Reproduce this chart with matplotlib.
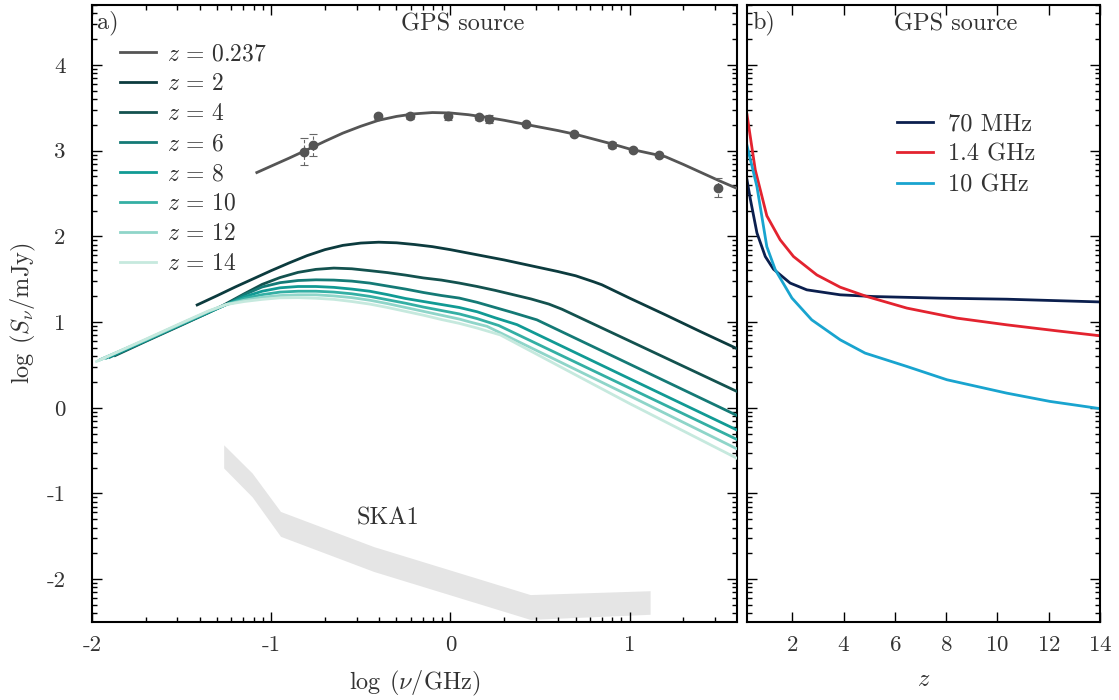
import numpy as np
import matplotlib
matplotlib.use("Agg")
import matplotlib.pyplot as plt
from matplotlib.ticker import FixedLocator, FixedFormatter, NullFormatter

plt.rcParams['font.family'] = ['cmr10', 'DejaVu Serif']
plt.rcParams['mathtext.fontset'] = 'cm'
plt.rcParams['axes.unicode_minus'] = False
plt.rcParams['axes.formatter.use_mathtext'] = True

TXT = '#333333'

# ---------------- data: panel a ----------------
fit_x = [-1.08, -1.0, -0.9, -0.8, -0.7, -0.6, -0.5, -0.4, -0.3, -0.2, -0.1, 0.0, 0.1, 0.2, 0.3,
         0.4, 0.5, 0.6, 0.7, 0.8, 0.9, 1.0, 1.1, 1.2, 1.3, 1.4, 1.5, 1.6]
fit_y = [2.745, 2.82, 2.913, 3.01, 3.11, 3.205, 3.285, 3.355, 3.40, 3.43, 3.445, 3.44, 3.42, 3.39, 3.355,
         3.315, 3.275, 3.235, 3.19, 3.135, 3.08, 3.02, 2.975, 2.93, 2.84, 2.745, 2.65, 2.56]

obs_x = [-0.818, -0.766, -0.405, -0.223, -0.013, 0.158, 0.214, 0.422, 0.688, 0.902, 1.017, 1.166, 1.493]
obs_y = [2.99, 3.067, 3.40, 3.405, 3.40, 3.39, 3.37, 3.308, 3.195, 3.067, 3.009, 2.947, 2.57]
obs_err = [0.16, 0.13, 0.03, 0.04, 0.04, 0.03, 0.05, 0.02, 0.02, 0.03, 0.02, 0.02, 0.11]

z_labels = ['2', '4', '6', '8', '10', '12', '14']
z2_x = [-1.413, -1.3, -1.2, -1.1, -1.0, -0.9, -0.8, -0.7, -0.6, -0.5, -0.4, -0.3, -0.2, -0.1, 0.0,
        0.1, 0.2, 0.3, 0.4, 0.5, 0.6, 0.7, 0.8, 0.846, 1.0, 1.2, 1.4, 1.6]
z2_y = [1.20, 1.31, 1.41, 1.505, 1.60, 1.69, 1.775, 1.845, 1.895, 1.922, 1.932, 1.925, 1.905, 1.88, 1.845,
        1.805, 1.765, 1.725, 1.68, 1.635, 1.59, 1.54, 1.47, 1.435, 1.28, 1.085, 0.885, 0.69]
z4_x = [-1.87, -1.7, -1.5, -1.35, -1.264, -1.15, -1.05, -0.95, -0.85, -0.75, -0.65, -0.55, -0.45, -0.35,
        -0.25, -0.15, -0.05, 0.05, 0.15, 0.25, 0.35, 0.45, 0.55, 0.623, 1.0, 1.3, 1.6]
z4_y = [0.61, 0.775, 0.965, 1.11, 1.20, 1.33, 1.44, 1.52, 1.58, 1.615, 1.63, 1.622, 1.60, 1.577,
        1.548, 1.515, 1.49, 1.455, 1.415, 1.37, 1.32, 1.27, 1.21, 1.15, 0.78, 0.485, 0.19]
z6_x = [-1.9, -1.7, -1.5, -1.35, -1.25, -1.15, -1.05, -0.95, -0.85, -0.75, -0.65, -0.55, -0.45, -0.35,
        -0.25, -0.15, -0.05, 0.05, 0.15, 0.25, 0.35, 0.483, 1.0, 1.6]
z6_y = [0.59, 0.78, 0.97, 1.11, 1.205, 1.32, 1.41, 1.46, 1.485, 1.493, 1.49, 1.478, 1.455, 1.42,
        1.385, 1.345, 1.31, 1.28, 1.23, 1.17, 1.11, 1.026, 0.51, -0.09]
z8_x = [-1.92, -1.7, -1.5, -1.35, -1.25, -1.15, -1.05, -0.95, -0.85, -0.75, -0.65, -0.55, -0.45, -0.35,
        -0.25, -0.15, -0.05, 0.05, 0.15, 0.25, 0.372, 1.0, 1.6]
z8_y = [0.58, 0.785, 0.975, 1.115, 1.205, 1.295, 1.36, 1.40, 1.415, 1.415, 1.405, 1.385, 1.36, 1.32,
        1.275, 1.24, 1.205, 1.17, 1.12, 1.05, 0.97, 0.34, -0.26]
z10_x = [-1.95, -1.7, -1.5, -1.35, -1.25, -1.15, -1.05, -0.95, -0.85, -0.75, -0.65, -0.55, -0.45, -0.35,
         -0.25, -0.15, -0.05, 0.05, 0.15, 0.27, 1.0, 1.6]
z10_y = [0.565, 0.79, 0.98, 1.12, 1.205, 1.275, 1.32, 1.35, 1.36, 1.36, 1.35, 1.33, 1.30, 1.26,
         1.22, 1.175, 1.135, 1.095, 1.04, 0.96, 0.23, -0.37]
z12_x = [-1.96, -1.7, -1.5, -1.35, -1.25, -1.15, -1.05, -0.95, -0.85, -0.75, -0.65, -0.55, -0.45, -0.35,
         -0.25, -0.15, -0.05, 0.05, 0.12, 0.205, 1.0, 1.6]
z12_y = [0.555, 0.795, 0.985, 1.125, 1.205, 1.255, 1.29, 1.31, 1.318, 1.318, 1.305, 1.285, 1.255, 1.215,
         1.17, 1.125, 1.08, 1.035, 0.995, 0.95, 0.14, -0.48]
z14_x = [-1.975, -1.7, -1.5, -1.35, -1.25, -1.15, -1.05, -0.95, -0.85, -0.75, -0.65, -0.55, -0.45, -0.35,
         -0.25, -0.15, -0.05, 0.05, 0.15, 0.279, 1.0, 1.6]
z14_y = [0.54, 0.80, 0.99, 1.13, 1.205, 1.24, 1.265, 1.283, 1.285, 1.278, 1.265, 1.24, 1.21, 1.17,
         1.125, 1.08, 1.03, 0.985, 0.93, 0.85, 0.05, -0.59]

z_colors = ['#0c3b3e', '#13524f', '#147a76', '#119a94', '#34afa4', '#8fd5c9', '#c6e9de']

ska_x = [-1.265, -1.106, -0.948, -0.428, 0.446, 1.115]
ska_hi = [-0.432, -0.762, -1.21, -1.62, -2.18, -2.135]
ska_lo = [-0.703, -1.04, -1.50, -1.91, -2.47, -2.41]

# ---------------- data: panel b ----------------
f70_z = [0.237, 0.37, 0.625, 0.95, 1.27, 1.92, 2.57, 3.87, 5.17, 7.77, 10.36, 14.0]
f70_y = [2.66, 2.43, 2.04, 1.765, 1.617, 1.455, 1.376, 1.318, 1.298, 1.279, 1.267, 1.235]
f14_z = [0.237, 0.56, 1.01, 1.53, 2.05, 2.96, 3.87, 4.91, 6.47, 8.42, 10.36, 12.31, 14.0]
f14_y = [3.42, 2.775, 2.24, 1.96, 1.765, 1.55, 1.407, 1.298, 1.163, 1.046, 0.968, 0.898, 0.84]
f10_z = [0.237, 0.625, 1.01, 1.34, 1.99, 2.76, 3.87, 4.84, 6.47, 8.03, 10.36, 12.05, 14.0]
f10_y = [3.06, 2.58, 1.88, 1.61, 1.28, 1.026, 0.793, 0.638, 0.482, 0.327, 0.171, 0.074, -0.01]
freq_labels = ['70 MHz', '1.4 GHz', '10 GHz']
freq_colors = ['#0b1f4e', '#e3232f', '#19a4cf']

xa_ticks = [-2, -1, 0, 1]
xa_ticklabels = ['-2', '-1', '0', '1']
y_ticks = [-2, -1, 0, 1, 2, 3, 4]
y_ticklabels = ['-2', '-1', '0', '1', '2', '3', '4']
xb_ticks = [2, 4, 6, 8, 10, 12, 14]

# ---------------- figure ----------------
fig = plt.figure(figsize=(11.19, 7.0), dpi=100)
axa = fig.add_axes([92/1119, 1-622/700, 645/1119, 617/700])
axb = fig.add_axes([747/1119, 1-622/700, 353/1119, 617/700])

LW = 2.0
FS = 17.5
FST = 16.5

def log_minor(lo, hi):
    out = []
    for k in range(int(np.floor(lo)) - 1, int(np.ceil(hi)) + 1):
        for m in range(2, 10):
            v = k + np.log10(m)
            if lo <= v <= hi:
                out.append(v)
    return out

# panel a
axa.fill_between(ska_x, ska_lo, ska_hi, color='#e5e5e5', lw=0, zorder=1)
axa.text(-0.346, -1.29, 'SKA1', fontsize=FS, color=TXT, ha='center', va='center')

axa.plot(fit_x, fit_y, color='#555555', lw=LW, label=r'$z\,=\,0.237$', zorder=4)
eb = axa.errorbar(obs_x, obs_y, yerr=obs_err, fmt='o', color='#555555', ms=6,
                  ecolor='#666666', elinewidth=0.8, capsize=3, capthick=0.8, zorder=5)
for lc in eb[2]:
    lc.set_linestyle((0, (3, 2)))

zx = [z2_x, z4_x, z6_x, z8_x, z10_x, z12_x, z14_x]
zy = [z2_y, z4_y, z6_y, z8_y, z10_y, z12_y, z14_y]
for xs, ys, c, lab in zip(zx, zy, z_colors, z_labels):
    axa.plot(xs, ys, color=c, lw=LW, label=r'$z\,=\,%s$' % lab, zorder=3)

axa.set_xlim(-2, 1.6)
axa.set_ylim(-2.5, 4.7)

handles, labels = axa.get_legend_handles_labels()
leg = axa.legend(handles, labels, loc='upper left', bbox_to_anchor=(0.043, 0.938),
                 frameon=False, fontsize=17, handlelength=1.52, handletextpad=0.5,
                 labelspacing=0.33, borderaxespad=0, borderpad=0)
for t in leg.get_texts():
    t.set_color(TXT)

axa.text(0.008, 0.972, 'a)', transform=axa.transAxes, fontsize=FS, color=TXT, ha='left', va='center')
axa.text(0.574, 0.968, 'GPS source', transform=axa.transAxes, fontsize=FS, color=TXT, ha='center', va='center')

axa.xaxis.set_major_locator(FixedLocator(xa_ticks))
axa.xaxis.set_major_formatter(FixedFormatter(xa_ticklabels))
axa.xaxis.set_minor_locator(FixedLocator(log_minor(-2, 1.6)))
axa.yaxis.set_major_locator(FixedLocator(y_ticks))
axa.yaxis.set_major_formatter(FixedFormatter(y_ticklabels))
axa.yaxis.set_minor_locator(FixedLocator(log_minor(-2.5, 4.7)))
axa.set_xlabel(r'$\log\;(\nu/\mathrm{GHz})$', fontsize=FS, color=TXT, labelpad=10)
axa.set_ylabel(r'$\log\;(S_\nu/\mathrm{mJy})$', fontsize=FS, color=TXT, labelpad=6)

# panel b
bz = [f70_z, f14_z, f10_z]
by = [f70_y, f14_y, f10_y]
for xs, ys, c, lab in zip(bz, by, freq_colors, freq_labels):
    axb.plot(xs, ys, color=c, lw=LW, label=lab)
axb.set_xlim(0.237, 14)
axb.set_ylim(-2.5, 4.7)
legb = axb.legend(loc='upper left', bbox_to_anchor=(0.425, 0.824), frameon=False, fontsize=FS,
                  handlelength=1.48, handletextpad=0.6, labelspacing=0.33, borderaxespad=0, borderpad=0)
for t in legb.get_texts():
    t.set_color(TXT)
axb.text(0.015, 0.972, 'b)', transform=axb.transAxes, fontsize=FS, color=TXT, ha='left', va='center')
axb.text(0.59, 0.968, 'GPS source', transform=axb.transAxes, fontsize=FS, color=TXT, ha='center', va='center')
axb.xaxis.set_major_locator(FixedLocator(xb_ticks))
axb.yaxis.set_major_locator(FixedLocator(y_ticks))
axb.yaxis.set_minor_locator(FixedLocator(log_minor(-2.5, 4.7)))
axb.yaxis.set_major_formatter(NullFormatter())
axb.set_xlabel(r'$z$', fontsize=FS, color=TXT, labelpad=10)

for ax in (axa, axb):
    for s in ax.spines.values():
        s.set_linewidth(1.5)
    ax.tick_params(which='both', direction='in', top=True, right=True, width=1.0,
                   labelsize=FST, labelcolor=TXT)
    ax.tick_params(which='major', length=7)
    ax.tick_params(which='minor', length=3.5)
    ax.tick_params(axis='x', which='major', pad=10)
    ax.tick_params(axis='y', which='major', pad=19)

fig.savefig('out.png', dpi=100)
